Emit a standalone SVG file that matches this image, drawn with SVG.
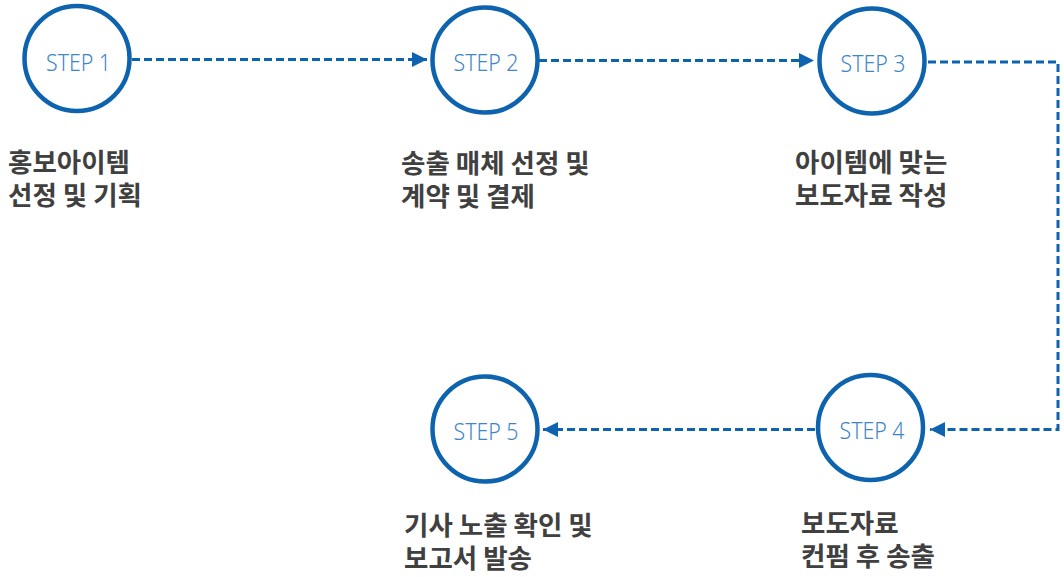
<svg xmlns="http://www.w3.org/2000/svg" width="1064" height="577" viewBox="0 0 1064 577">
<defs>
<marker id="ah" markerWidth="6" markerHeight="6" refX="5" refY="3" orient="auto" markerUnits="strokeWidth" viewBox="0 0 6 6">
<path d="M0,0.5 L5,3 L0,5.5 Z" fill="#0d63ae"/>
</marker>
<style>
.c{fill:#fff;stroke:#0d63ae;stroke-width:4.5}
.s{font-family:"Noto Sans","Liberation Sans",sans-serif;font-size:23px;font-weight:300;fill:#3f86c6;text-anchor:middle}
.l{font-family:"Noto Sans CJK KR","Noto Sans",sans-serif;font-size:26.5px;font-weight:700;fill:#404040}
.e{fill:none;stroke:#0d63ae;stroke-width:3;stroke-dasharray:8 4}
</style>
</defs>
<rect width="1064" height="577" fill="#fff"/>
<g id="connectors">
<path class="e" d="M132,59.5 H427" marker-end="url(#ah)"/>
<path class="e" d="M539,60.5 H814" marker-end="url(#ah)"/>
<path class="e" d="M928,62 H1058 V429.5 H930" marker-end="url(#ah)"/>
<path class="e" d="M815,429.5 H543" marker-end="url(#ah)"/>
</g>
<g id="step1"><circle class="c" cx="77" cy="58.5" r="52.5"/><text class="s" x="78.5" y="70.5" textLength="65" lengthAdjust="spacingAndGlyphs">STEP 1</text><text class="l" x="8" y="172">홍보아이템<tspan x="8" y="205">선정 및 기획</tspan></text></g>
<g id="step2"><circle class="c" cx="485" cy="60" r="52.5"/><text class="s" x="486" y="71" textLength="65" lengthAdjust="spacingAndGlyphs">STEP 2</text><text class="l" x="401" y="173">송출 매체 선정 및<tspan x="401" y="206">계약 및 결제</tspan></text></g>
<g id="step3"><circle class="c" cx="872" cy="61" r="52.5"/><text class="s" x="873" y="72" textLength="65" lengthAdjust="spacingAndGlyphs">STEP 3</text><text class="l" x="795" y="172">아이템에 맞는<tspan x="795" y="205">보도자료 작성</tspan></text></g>
<g id="step4"><circle class="c" cx="870.5" cy="427.5" r="52.5"/><text class="s" x="872" y="438.5" textLength="65" lengthAdjust="spacingAndGlyphs">STEP 4</text><text class="l" x="801" y="533">보도자료<tspan x="801" y="566">컨펌 후 송출</tspan></text></g>
<g id="step5"><circle class="c" cx="485" cy="429" r="52.5"/><text class="s" x="486" y="439.5" textLength="65" lengthAdjust="spacingAndGlyphs">STEP 5</text><text class="l" x="404" y="535">기사 노출 확인 및<tspan x="404" y="568">보고서 발송</tspan></text></g>
</svg>
